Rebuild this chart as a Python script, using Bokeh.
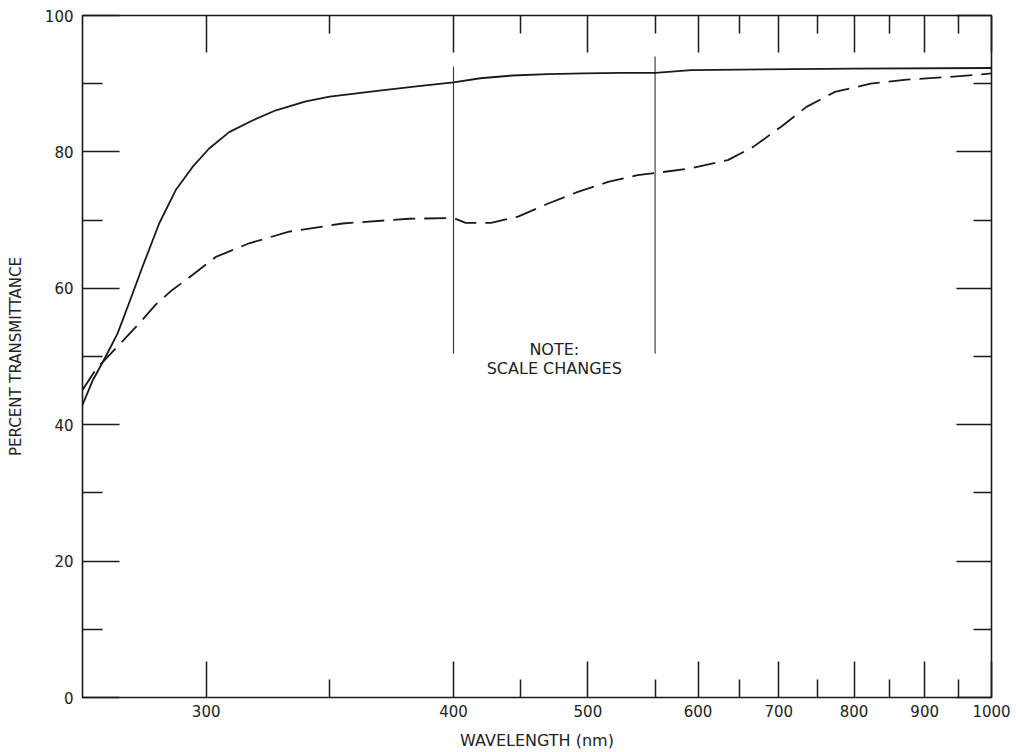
import numpy as np
from bokeh.plotting import figure
from bokeh.models import LinearAxis, FixedTicker, CustomJSTickFormatter, Range1d
from bokeh.core.properties import value
from bokeh.embed import file_html
from bokeh.resources import INLINE

# Transmittance curves: wavelength (nm) and percent transmittance
solid_wl = [250, 254, 259.4, 264.2, 268.8, 274.3, 281, 287.7, 294.5, 301.2, 309.3,
            318.7, 328.2, 340.3, 350, 370, 385, 400, 420, 444, 470, 497, 525, 550,
            592, 680, 800, 1000]
solid_t = [42.9, 46.4, 50.0, 53.4, 57.8, 63.2, 69.5, 74.4, 77.8, 80.5, 82.9,
           84.6, 86.1, 87.4, 88.1, 89.0, 89.6, 90.2, 90.8, 91.2, 91.4, 91.5, 91.6, 91.6,
           92.0, 92.1, 92.2, 92.3]

dashed_wl = [250, 255.4, 264.8, 274.3, 279.6, 286.4, 291.8, 303.9, 317.4, 333.5,
             355.1, 382, 400, 409, 428, 448, 470, 492, 515, 537, 550,
             592, 636, 667, 703, 736, 774, 823, 874, 937, 1000]
dashed_t = [45.1, 48.1, 51.7, 55.4, 57.6, 59.8, 61.2, 64.6, 66.6, 68.3,
            69.5, 70.2, 70.3, 69.6, 69.6, 70.5, 72.4, 74.1, 75.6, 76.6, 76.9,
            77.6, 78.8, 80.7, 83.7, 86.6, 88.8, 90.0, 90.6, 91.0, 91.5]

x_major = [300, 400, 500, 600, 700, 800, 900, 1000]
x_minor = [350, 450, 550, 650, 750, 850, 950]
y_major = [0, 20, 40, 60, 80, 100]
y_minor = [10, 30, 50, 70, 90]
scale_breaks = [400, 550]
note_lines = ["NOTE:", "SCALE CHANGES"]

# Broken wavelength scale: linear 250-400, compressed linear 400-550,
# square-root 550-1000 (segment widths in axis units)
SEG1, SEG2, SEG3 = 371.0, 201.6, 336.4


def axis_pos(wl):
    wl = np.asarray(wl, dtype=float)
    a = (wl - 250.0) / 150.0 * SEG1
    b = SEG1 + (wl - 400.0) / 150.0 * SEG2
    c = SEG1 + SEG2 + (np.sqrt(wl) - np.sqrt(550.0)) / (np.sqrt(1000.0) - np.sqrt(550.0)) * SEG3
    return [float(v) for v in np.where(wl <= 400, a, np.where(wl <= 550, b, c))]


INK = "#1a1a1a"
FONT = "DejaVu Sans"

p = figure(width=1016, height=752,
           x_range=Range1d(0, SEG1 + SEG2 + SEG3), y_range=Range1d(0, 100),
           x_axis_type=None, y_axis_type=None,
           output_backend="svg", toolbar_location=None,
           min_border_left=82, min_border_right=25,
           min_border_top=15, min_border_bottom=54,
           outline_line_color=INK, outline_line_width=1.6,
           background_fill_color="white", border_fill_color="white")
p.grid.visible = False

x_ticker = FixedTicker(ticks=axis_pos(x_major), minor_ticks=axis_pos(x_minor))
y_ticker = FixedTicker(ticks=y_major, minor_ticks=y_minor)

x_labels = CustomJSTickFormatter(
    args=dict(pos=axis_pos(x_major), names=[str(v) for v in x_major]),
    code="""
    let best = 0;
    for (let i = 1; i < pos.length; i++) {
        if (Math.abs(pos[i] - tick) < Math.abs(pos[best] - tick)) best = i;
    }
    return names[best];
    """)
blank = CustomJSTickFormatter(code="return '';")


def style_axis(ax, major_in, minor_in):
    ax.axis_line_color = None
    ax.major_tick_in = major_in
    ax.major_tick_out = 0
    ax.minor_tick_in = minor_in
    ax.minor_tick_out = 0
    ax.major_tick_line_color = INK
    ax.minor_tick_line_color = INK
    ax.major_tick_line_width = 1.5
    ax.minor_tick_line_width = 1.5
    ax.major_label_text_font = FONT
    ax.major_label_text_font_size = "15px"
    ax.major_label_text_color = "#222222"
    ax.axis_label_text_font = FONT
    ax.axis_label_text_font_size = "15px"
    ax.axis_label_text_font_style = "normal"
    ax.axis_label_text_color = "#222222"


bottom = LinearAxis(ticker=x_ticker, formatter=x_labels, axis_label="WAVELENGTH (nm)")
style_axis(bottom, 36, 18)
bottom.axis_label_text_font_size = "16px"
bottom.major_label_standoff = 7
bottom.axis_label_standoff = 11
p.add_layout(bottom, "below")

top = LinearAxis(ticker=x_ticker, formatter=blank)
style_axis(top, 37, 18)
top.major_label_standoff = 0
top.major_label_text_font_size = "1px"
p.add_layout(top, "above")

left = LinearAxis(ticker=y_ticker, axis_label="PERCENT TRANSMITTANCE")
style_axis(left, 37, 20)
left.major_label_standoff = 9
left.axis_label_standoff = 17
p.add_layout(left, "left")

right = LinearAxis(ticker=y_ticker, formatter=blank)
style_axis(right, 35, 18)
right.major_label_standoff = 0
right.major_label_text_font_size = "1px"
p.add_layout(right, "right")

# Vertical markers where the wavelength scale changes
bx = axis_pos(scale_breaks)
p.segment(x0=bx, y0=[50.4, 50.4], x1=bx, y1=[92.5, 94.0],
          line_color="#333333", line_width=1.1)

mid = (bx[0] + bx[1]) / 2.0
p.text(x=[mid, mid], y=[51.0, 48.2], text=note_lines,
       text_align="center", text_baseline="middle",
       text_font=value(FONT), text_font_size=value("16px"),
       text_color="#222222")

# Curves
p.line(x=axis_pos(solid_wl), y=solid_t, line_color=INK, line_width=1.8,
       line_join="round")
p.line(x=axis_pos(dashed_wl), y=dashed_t, line_color=INK, line_width=1.8,
       line_dash="22 9", line_join="round")

open("out.html", "w").write(file_html(p, INLINE))
